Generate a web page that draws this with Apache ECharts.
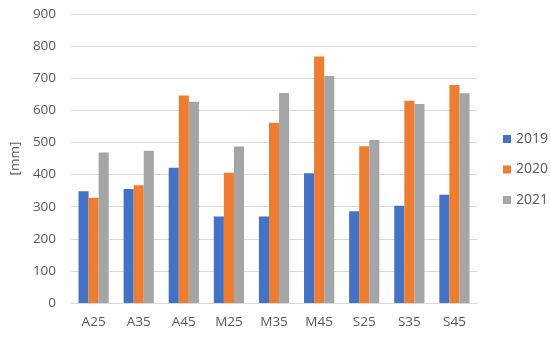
<!DOCTYPE html>
<html><head><meta charset="utf-8">
<script src="https://cdn.jsdelivr.net/npm/echarts@6/dist/echarts.min.js"></script>
<style>html,body{margin:0;padding:0;background:#fff}#c{width:550px;height:338px}</style>
</head><body><div id="c"></div>
<script>
const categories = ['A25','A35','A45','M25','M35','M45','S25','S35','S45'];
const s2019 = [348, 355, 421, 269, 269, 404, 286, 303, 337];
const s2020 = [328, 367, 646, 406, 561, 768, 488, 630, 679];
const s2021 = [469, 474, 627, 487, 654, 707, 508, 620, 653];
const yTicks = {min: 0, max: 900, interval: 100};

const chart = echarts.init(document.getElementById('c'));
const font = '"Open Sans", "Noto Sans", sans-serif';
chart.setOption({
  animation: false,
  textStyle: {fontFamily: font},
  grid: {left: 70, right: 73, top: 14, bottom: 35},
  legend: {
    orient: 'vertical', left: 503, top: 132, padding: 0, itemWidth: 8, itemHeight: 8, itemGap: 16.5,
    itemTextGap: 5, icon: 'rect',
    textStyle: {color: '#595959', fontSize: 14, fontFamily: font},
    data: ['2019','2020','2021']
  },
  xAxis: {
    type: 'category', data: categories,
    axisLine: {lineStyle: {color: '#d9d9d9'}},
    axisTick: {show: false},
    axisLabel: {color: '#595959', fontSize: 13.5, margin: 12}
  },
  yAxis: {
    type: 'value', min: yTicks.min, max: yTicks.max, interval: yTicks.interval,
    name: '[mm]', nameLocation: 'middle', nameGap: 46, nameRotate: 90,
    nameTextStyle: {color: '#595959', fontSize: 13.5},
    axisLine: {show: false}, axisTick: {show: false},
    axisLabel: {color: '#595959', fontSize: 13.5, margin: 15},
    splitLine: {lineStyle: {color: '#d9d9d9'}}
  },
  series: [
    {name: '2019', type: 'bar', data: s2019, itemStyle: {color: '#4472C4'}, barGap: '0%', barCategoryGap: '33%'},
    {name: '2020', type: 'bar', data: s2020, itemStyle: {color: '#ED7D31'}},
    {name: '2021', type: 'bar', data: s2021, itemStyle: {color: '#A5A5A5'}}
  ]
});
</script></body></html>
